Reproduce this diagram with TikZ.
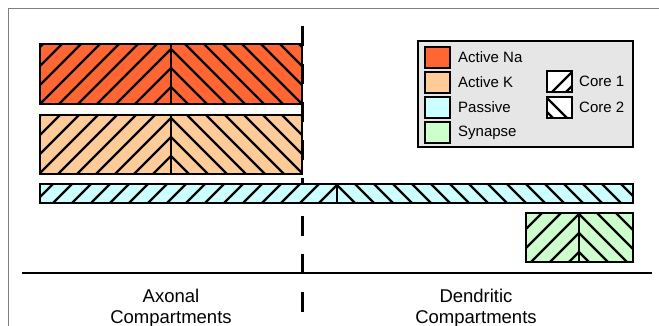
\documentclass[tikz,border=0pt]{standalone}
\usepackage{fontspec}
\setmainfont{Liberation Sans}
\definecolor{nacol}{HTML}{FF6633}
\definecolor{kcol}{HTML}{FFCC99}
\definecolor{pascol}{HTML}{CCFFFF}
\definecolor{syncol}{HTML}{CCFFCC}
\definecolor{legcol}{HTML}{E6E6E6}
\tikzset{
  hatch/.style={line width=2.4pt, black},
  barborder/.style={line width=2.6pt, black},
  swatch/.style={draw=black, line width=2pt, minimum width=25pt, minimum height=21pt, inner sep=0pt},
  legtext/.style={anchor=west, inner sep=0pt, font=\fontsize{15}{18}\selectfont},
  axlabel/.style={align=center, inner sep=0pt, font=\fontsize{18.5}{20.5}\selectfont},
}
% #1 x1, #2 xs (split), #3 x2, #4 y1, #5 y2, #6 colour, #7 yref
\newcommand{\hatchbar}[7]{%
  \fill[#6] (#1,#4) rectangle (#3,#5);
  \begin{scope}
    \clip (#1,#4) rectangle (#2,#5);
    \foreach \k in {-20,...,5} \draw[hatch] (#2,{#7+\k*19}) -- ++(-400,400);
  \end{scope}
  \begin{scope}
    \clip (#2,#4) rectangle (#3,#5);
    \foreach \k in {-20,...,5} \draw[hatch] (#2,{#7+\k*19}) -- ++(400,400);
  \end{scope}
  \draw[hatch] (#2,#4) -- (#2,#5);
  \draw[barborder] (#1,#4) rectangle (#3,#5);
}
\begin{document}
\begin{tikzpicture}[x=1pt,y=-1pt]
\useasboundingbox (0,0) rectangle (659,326);
% frame
\draw[gray, line width=1pt] (8,326) -- (8,9) -- (659,9);
% dashed divider
\coordinate (dtop) at (302,26);
\coordinate (dbot) at (302,313);
\draw[line width=3pt, dash pattern=on 20pt off 18pt] (dtop) -- (dbot);
% bars
\hatchbar{40}{171}{302}{44}{104}{nacol}{49}
\hatchbar{40}{171}{302}{115}{174}{kcol}{137}
\hatchbar{40}{337}{633}{184}{203}{pascol}{185}
\hatchbar{526}{579}{633}{213}{262}{syncol}{233}
% axis
\coordinate (axl) at (22,273);
\coordinate (axr) at (652,273);
\draw[line width=2.5pt] (axl) -- (axr);
% legend
\draw[fill=legcol, line width=2pt] (418,41) rectangle (633,147);
\node[swatch, fill=nacol] (sna) at (437.5,57.5) {};
\node[swatch, fill=kcol] (sk) at (437.5,82.5) {};
\node[swatch, fill=pascol] (spas) at (437.5,107.5) {};
\node[swatch, fill=syncol] (ssyn) at (437.5,132.5) {};
\node[legtext] (tna) at ([xshift=7pt]sna.east) {Active Na};
\node[legtext] (tk) at ([xshift=7pt]sk.east) {Active K};
\node[legtext] (tpas) at ([xshift=7pt]spas.east) {Passive};
\node[legtext] (tsyn) at ([xshift=7pt]ssyn.east) {Synapse};
\node[swatch, fill=white] (sc1) at (559.5,81.5) {};
\node[swatch, fill=white] (sc2) at (559.5,107.5) {};
\begin{scope}
  \clip (sc1.south west) rectangle (sc1.north east);
  \draw[hatch] (572,72) -- ++(-40,40);
  \draw[hatch] (572,86) -- ++(-40,40);
\end{scope}
\begin{scope}
  \clip (sc2.south west) rectangle (sc2.north east);
  \draw[hatch] (547,98) -- ++(40,40);
  \draw[hatch] (547,112) -- ++(40,40);
\end{scope}
\node[swatch] at (sc1) {};
\node[swatch] at (sc2) {};
\node[legtext] (tc1) at ([xshift=6pt]sc1.east) {Core 1};
\node[legtext] (tc2) at ([xshift=6pt]sc2.east) {Core 2};
% axis labels
\node[axlabel] (axon) at (171,308) {Axonal\\Compartments};
\node[axlabel] (dend) at (476,308) {Dendritic\\Compartments};
\end{tikzpicture}
\end{document}
